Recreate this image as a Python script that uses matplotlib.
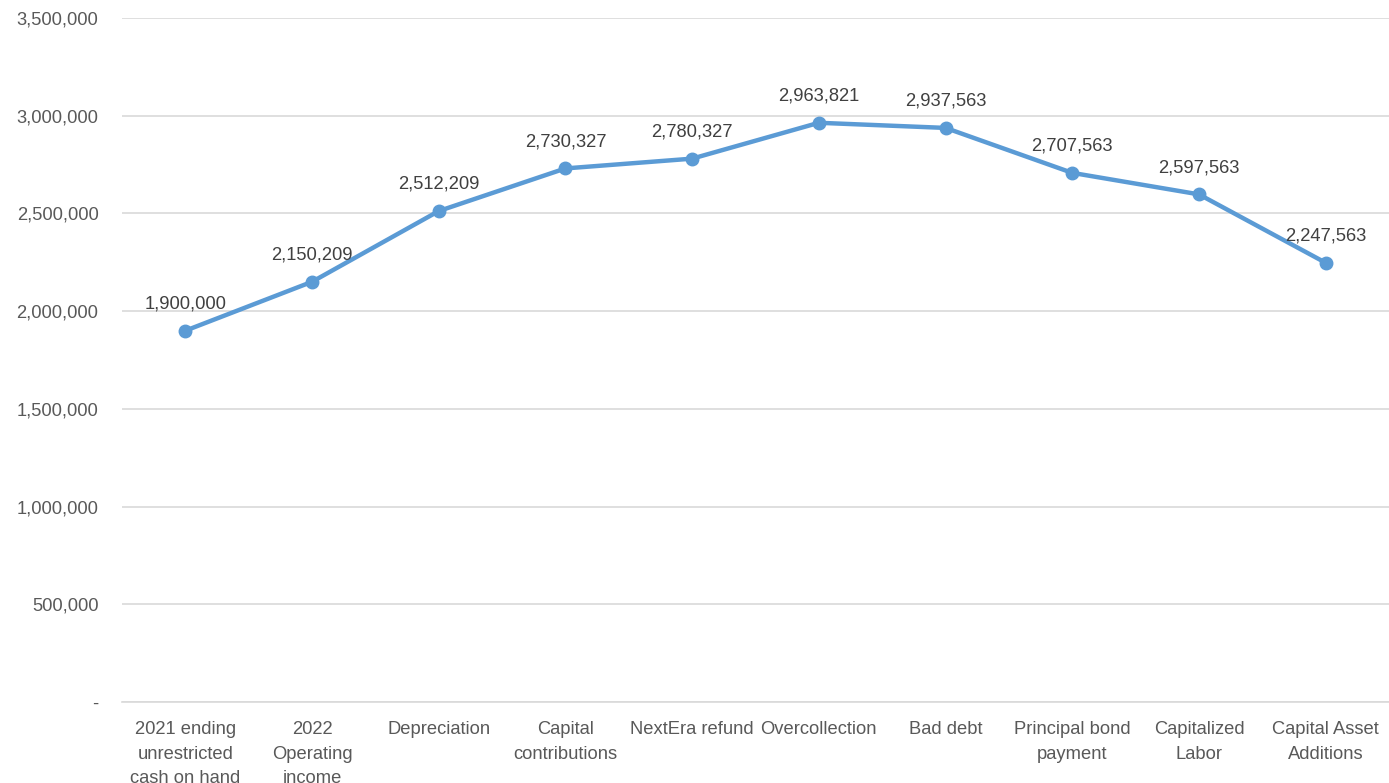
import matplotlib.pyplot as plt
from matplotlib.ticker import FuncFormatter

categories = ['2021 ending\nunrestricted\ncash on hand', '2022\nOperating\nincome',
              'Depreciation', 'Capital\ncontributions', 'NextEra refund',
              'Overcollection', 'Bad debt', 'Principal bond\npayment',
              'Capitalized\nLabor', 'Capital Asset\nAdditions']
balance = [1900000, 2150209, 2512209, 2730327, 2780327,
           2963821, 2937563, 2707563, 2597563, 2247563]

TEXT = '#595959'
BLUE = '#5B9BD5'
FS = 13.2
plt.rcParams['font.family'] = ['Liberation Sans', 'DejaVu Sans']


def fmt(v, pos=None):
    return '-' if v == 0 else f'{v:,.0f}'


fig = plt.figure(figsize=(13.89, 7.83), dpi=100)
ax = fig.add_axes([122 / 1389, 1 - 702 / 783, 1 - 122 / 1389, 684 / 783])

x = range(len(categories))
ax.plot(x, balance, color=BLUE, lw=3.2, marker='o', ms=9, zorder=3)
for i, v in zip(x, balance):
    ax.annotate(fmt(v), (i, v), xytext=(0, 13), textcoords='offset points',
                ha='center', va='bottom', fontsize=FS, color='#404040')

ax.set_xlim(-0.5, len(categories) - 0.5)
ax.set_ylim(0, 3500000)
ax.set_yticks(range(0, 3500001, 500000))
ax.yaxis.set_major_formatter(FuncFormatter(fmt))
ax.grid(axis='y', color='#D9D9D9', lw=1.2)
ax.set_axisbelow(True)
for s in ['top', 'right', 'left']:
    ax.spines[s].set_visible(False)
ax.spines['bottom'].set_color('#D9D9D9')
ax.spines['bottom'].set_linewidth(1.2)
ax.set_xticks(list(x))
ax.set_xticklabels(categories, va='top', linespacing=1.55)
ax.tick_params(length=0, labelsize=FS, colors=TEXT)
ax.tick_params(axis='x', pad=14)
ax.tick_params(axis='y', pad=17)

fig.savefig('out.png', dpi=100)
